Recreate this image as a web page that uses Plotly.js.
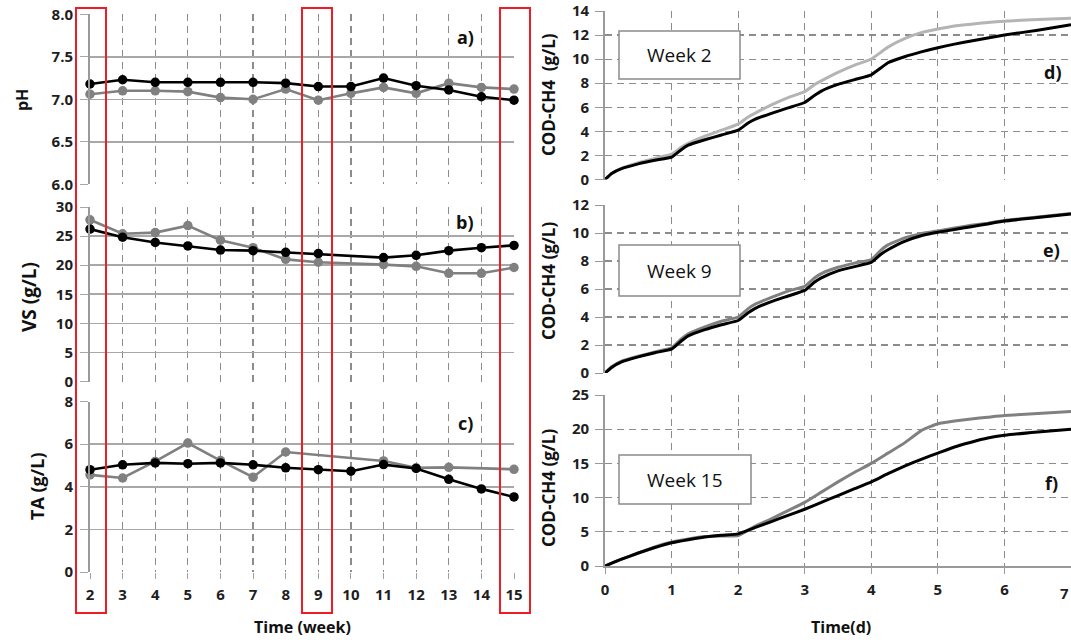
<!DOCTYPE html>
<html>
<head>
<meta charset="utf-8">
<script src="https://cdn.plot.ly/plotly-3.0.1.min.js"></script>
<style>html,body{margin:0;padding:0;background:#fff;}#chart{width:1071px;height:640px;}</style>
</head>
<body>
<div id="chart"></div>
<script>
// ---------- DATA ----------
const weeks = [2,3,4,5,6,7,8,9,10,11,12,13,14,15];
const weekTicks = ['2','3','4','5','6','7','8','9','10','11','12','13','14','15'];

const phBlack = [7.18,7.23,7.20,7.20,7.20,7.20,7.19,7.15,7.15,7.25,7.16,7.11,7.03,6.99];
const phGrey  = [7.06,7.10,7.10,7.09,7.02,7.00,7.12,6.99,7.07,7.14,7.07,7.19,7.14,7.12];

const vsBlack = [26.2,24.8,23.9,23.3,22.6,22.5,22.2,22.0,null,21.3,21.7,22.5,23.0,23.4];
const vsGrey  = [27.8,25.4,25.6,26.8,24.3,23.0,21.0,20.5,null,20.1,19.8,18.6,18.6,19.6];

const taBlack = [4.80,5.03,5.12,5.08,5.12,5.03,4.89,4.80,4.73,5.04,4.86,4.35,3.90,3.52];
const taGrey  = [4.56,4.41,5.19,6.05,5.23,4.45,5.63,null,null,5.21,4.89,4.91,null,4.82];

const daysDE = [0,0.1,0.25,0.5,0.75,1,1.15,1.25,1.5,1.75,2,2.15,2.25,2.5,2.75,3,3.15,3.25,3.5,3.75,4,4.15,4.25,4.5,4.75,5,5.25,5.5,5.75,6,6.5,7];
const w2Black = [0,0.5,0.9,1.3,1.6,1.85,2.5,2.85,3.3,3.7,4.1,4.7,5.0,5.5,5.95,6.4,7.0,7.35,7.9,8.3,8.7,9.3,9.7,10.2,10.6,10.95,11.25,11.5,11.75,12.0,12.4,12.85];
const w2Grey  = [0,0.5,0.95,1.4,1.75,2.1,2.7,3.0,3.6,4.1,4.6,5.2,5.5,6.2,6.8,7.3,7.9,8.2,8.9,9.5,10.0,10.6,11.0,11.7,12.2,12.5,12.75,12.9,13.05,13.15,13.3,13.4];
const w9Black = [0,0.4,0.8,1.15,1.45,1.7,2.3,2.65,3.1,3.45,3.75,4.3,4.6,5.1,5.5,5.9,6.5,6.8,7.3,7.6,7.9,8.5,8.8,9.4,9.8,10.05,10.25,10.45,10.65,10.85,11.1,11.35];
const w9Grey  = [0,0.45,0.85,1.2,1.5,1.8,2.45,2.8,3.3,3.7,4.0,4.6,4.9,5.4,5.85,6.2,6.8,7.1,7.55,7.85,8.1,8.8,9.15,9.65,9.95,10.15,10.35,10.55,10.7,10.9,11.15,11.4];

const daysF = [0,0.25,0.5,0.75,1,1.25,1.5,1.75,2,2.25,2.5,2.75,3,3.25,3.5,3.75,4,4.25,4.5,4.75,5,5.25,5.5,5.75,6,6.5,7];
const w15Black = [0,1.0,1.9,2.7,3.4,3.85,4.25,4.5,4.7,5.6,6.5,7.4,8.3,9.3,10.3,11.3,12.3,13.5,14.6,15.6,16.5,17.4,18.1,18.7,19.1,19.6,20.0];
const w15Grey  = [0,1.0,1.9,2.8,3.5,3.95,4.3,4.4,4.45,5.8,6.9,8.1,9.3,10.8,12.3,13.7,15.0,16.5,18.0,19.8,20.8,21.2,21.5,21.75,22.0,22.3,22.6];

// ---------- STYLE ----------
const W = 1071, H = 640;
const PX = x => x / W, PY = y => 1 - y / H;
const FONT = '"Open Sans", "Noto Sans", "DejaVu Sans", sans-serif';
const TXT = '#1e1e1e';
const BLACK = '#000000', GREY = '#808080', LGREY = '#b4b4b4';

function wk(x, y, xa, ya, color) {
  return {x: x, y: y, xaxis: xa, yaxis: ya, type: 'scatter', mode: 'lines+markers',
    connectgaps: true, cliponaxis: false,
    line: {color: color, width: 2.6}, marker: {color: color, size: 9.5}, hoverinfo: 'skip'};
}
function cur(x, y, xa, ya, color) {
  return {x: x, y: y, xaxis: xa, yaxis: ya, type: 'scatter', mode: 'lines',
    line: {color: color, width: 3, shape: 'spline', smoothing: 0.4}, hoverinfo: 'skip'};
}

const data = [
  wk(weeks, phGrey, 'x', 'y', GREY), wk(weeks, phBlack, 'x', 'y', BLACK),
  wk(weeks, vsGrey, 'x2', 'y2', GREY), wk(weeks, vsBlack, 'x2', 'y2', BLACK),
  wk(weeks, taGrey, 'x3', 'y3', GREY), wk(weeks, taBlack, 'x3', 'y3', BLACK),
  cur(daysDE, w2Grey, 'x4', 'y4', LGREY), cur(daysDE, w2Black, 'x4', 'y4', BLACK),
  cur(daysDE, w9Grey, 'x5', 'y5', GREY), cur(daysDE, w9Black, 'x5', 'y5', BLACK),
  cur(daysF, w15Grey, 'x6', 'y6', GREY), cur(daysF, w15Black, 'x6', 'y6', BLACK)
];

const tickFont = {family: FONT, size: 15, color: TXT, weight: 'bold'};
const LX = [PX(90), PX(514)];
const RX = [PX(605), PX(1071)];

function leftX(anchor, labels) {
  return {domain: LX, anchor: anchor, range: [2, 15], tickvals: weeks, ticktext: weekTicks,
    showticklabels: labels, ticks: labels ? 'outside' : '', ticklen: 6, tickcolor: '#a0a0a0',
    showgrid: true, gridcolor: '#8c8c8c', gridwidth: 1.2, griddash: '7px,5px',
    zeroline: false, showline: false, tickfont: tickFont, ticklabelstandoff: 3, fixedrange: true};
}
function leftY(anchor, range, dtick, fmt) {
  return {domain: null, anchor: anchor, range: range, dtick: dtick, tick0: range[0], tickformat: fmt,
    showgrid: true, gridcolor: '#a8a8a8', gridwidth: 1.6, zeroline: false,
    showline: true, linecolor: '#9a9a9a', linewidth: 2,
    ticks: 'outside', ticklen: 8, tickcolor: '#a8a8a8', tickfont: tickFont, ticklabelstandoff: 4, fixedrange: true};
}
function rightX(anchor, labels) {
  return {domain: RX, anchor: anchor, range: [0, 7], dtick: 1, tick0: 0,
    tickvals: [0,1,2,3,4,5,6],
    showticklabels: labels, ticks: labels ? 'outside' : '', ticklen: 6, tickcolor: '#999',
    showgrid: true, gridcolor: '#8c8c8c', gridwidth: 1.2, griddash: '7px,5px',
    zeroline: false, showline: labels, linecolor: '#999', linewidth: 1.6,
    tickfont: tickFont, ticklabelstandoff: 3, fixedrange: true};
}
function rightY(anchor, range, dtick) {
  return {domain: null, anchor: anchor, range: range, dtick: dtick, tick0: 0,
    showgrid: true, gridcolor: '#8c8c8c', gridwidth: 1.2, griddash: '7px,5px', zeroline: false,
    showline: true, linecolor: '#9a9a9a', linewidth: 1.8,
    ticks: 'outside', ticklen: 8, tickcolor: '#9a9a9a', tickfont: tickFont, ticklabelstandoff: 3, fixedrange: true};
}

const y1 = leftY('x', [6, 8], 0.5, '.1f'); y1.domain = [PY(184.3), PY(14.3)];
const y2 = leftY('x2', [0, 30], 5, 'd'); y2.domain = [PY(381.5), PY(207)];
const y3 = leftY('x3', [0, 8], 2, 'd'); y3.domain = [PY(572), PY(401.5)];
const y4 = rightY('x4', [0, 14], 2); y4.domain = [PY(179.5), PY(11)];
const y5 = rightY('x5', [0, 12], 2); y5.domain = [PY(373), PY(205)];
const y6 = rightY('x6', [0, 25], 5); y6.domain = [PY(566), PY(395)];

function ann(text, x, y, size, opts) {
  return Object.assign({text: text, xref: 'paper', yref: 'paper', x: PX(x), y: PY(y),
    xanchor: 'center', yanchor: 'middle', showarrow: false,
    font: {family: FONT, size: size, color: '#111', weight: 'bold'}}, opts || {});
}
const boxFont = {family: FONT, size: 19, color: '#111', weight: 'normal'};

const annotations = [
  ann('pH', 22, 100, 16, {textangle: -90}),
  ann('VS (g/L)', 29, 297, 19, {textangle: -90}),
  ann('TA (g/L)', 37, 486, 18, {textangle: -90}),
  ann('COD-CH4  (g/L)', 548, 95, 17, {textangle: -90}),
  ann('COD-CH4 (g/L)', 548, 281, 17, {textangle: -90}),
  ann('COD-CH4 (g/L)', 548, 488, 17, {textangle: -90}),
  ann('Time (week)', 302, 627, 16),
  ann('Time(d)', 841, 627, 16),
  ann('7', 1071, 593, 15, {xanchor: 'right', font: tickFont}),
  ann('a)', 465, 37, 18),
  ann('b)', 465, 222, 18),
  ann('c)', 465, 423, 18),
  ann('d)', 1053, 72, 18),
  ann('e)', 1051, 250, 18),
  ann('f)', 1051, 483, 18),
  ann('Week 2', 679.5, 55, 19, {font: boxFont}),
  ann('Week 9', 679.5, 270.5, 19, {font: boxFont}),
  ann('Week 15', 685, 479.5, 19, {font: boxFont})
];

function rect(x0, y0, x1, y1, color, width) {
  return {type: 'rect', xref: 'paper', yref: 'paper', x0: PX(x0), x1: PX(x1), y0: PY(y1), y1: PY(y0),
    line: {color: color, width: width}, fillcolor: 'rgba(0,0,0,0)', layer: 'above'};
}
const shapes = [
  Object.assign(rect(619, 31, 740, 79, '#8a8a8a', 1.5), {fillcolor: '#ffffff'}),
  Object.assign(rect(619, 245, 740, 296, '#8a8a8a', 1.5), {fillcolor: '#ffffff'}),
  Object.assign(rect(619, 455, 751, 504, '#8a8a8a', 1.5), {fillcolor: '#ffffff'}),
  rect(76, 8, 106, 613, '#ee1c24', 2),
  rect(302, 8, 332, 613, '#ee1c24', 2),
  rect(500, 8, 530, 613, '#ee1c24', 2)
];

const layout = {
  width: W, height: H, margin: {l: 0, r: 0, t: 0, b: 0},
  paper_bgcolor: '#ffffff', plot_bgcolor: '#ffffff', showlegend: false,
  font: {family: FONT, color: TXT},
  xaxis: leftX('y', false), yaxis: y1,
  xaxis2: leftX('y2', false), yaxis2: y2,
  xaxis3: leftX('y3', true), yaxis3: y3,
  xaxis4: rightX('y4', false), yaxis4: y4,
  xaxis5: rightX('y5', false), yaxis5: y5,
  xaxis6: rightX('y6', true), yaxis6: y6,
  annotations: annotations, shapes: shapes
};

Plotly.newPlot('chart', data, layout, {staticPlot: true, displayModeBar: false});
</script>
</body>
</html>
